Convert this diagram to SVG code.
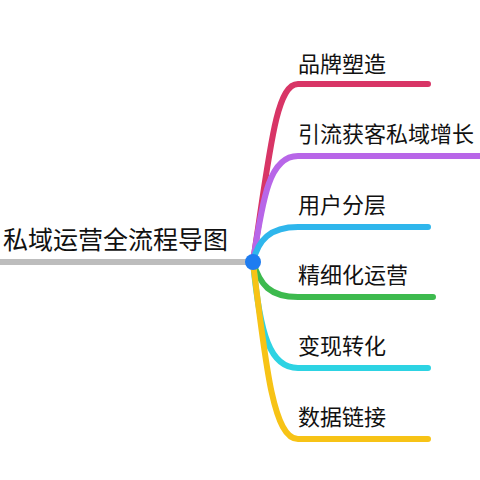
<svg xmlns="http://www.w3.org/2000/svg" width="480" height="480" viewBox="0 0 480 480">
<style>
.br{fill:none;stroke-width:6;stroke-linecap:round;stroke-linejoin:round}
.lbl{font-family:"Noto Sans CJK SC","Noto Sans",sans-serif;font-size:22px;fill:#111}
.root{font-family:"Noto Sans CJK SC","Noto Sans",sans-serif;font-size:25px;fill:#111}
</style>
<rect width="480" height="480" fill="#ffffff"/>
<g id="connectors">
<line x1="0" y1="262" x2="253" y2="262" stroke="#bdbdbd" stroke-width="6"/>
<path class="br" stroke="#d83566" d="M253,262 C270,150 276,84 298,84 L428,84"/>
<path class="br" stroke="#b866e8" d="M253,262 C263,195 270,156 298,156 L482,156"/>
<path class="br" stroke="#2fb6ec" d="M253,262 C258,240 270,227 298,227 L428,227"/>
<path class="br" stroke="#3dba4e" d="M253,262 C260,285 270,297 298,297 L433,297"/>
<path class="br" stroke="#2dd3e3" d="M253,262 C260,335 270,368 298,368 L428,368"/>
<path class="br" stroke="#f7c316" d="M253,262 C266,370 274,439 298,439 L428,439"/>
</g>
<g id="root">
<text class="root" x="3" y="249">私域运营全流程导图</text>
<circle cx="253" cy="262" r="8" fill="#1e7cf0"/>
</g>
<g id="n1"><text class="lbl" x="298" y="72">品牌塑造</text></g>
<g id="n2"><text class="lbl" x="298" y="142">引流获客私域增长</text></g>
<g id="n3"><text class="lbl" x="298" y="213">用户分层</text></g>
<g id="n4"><text class="lbl" x="298" y="283">精细化运营</text></g>
<g id="n5"><text class="lbl" x="298" y="354">变现转化</text></g>
<g id="n6"><text class="lbl" x="298" y="425">数据链接</text></g>
</svg>
